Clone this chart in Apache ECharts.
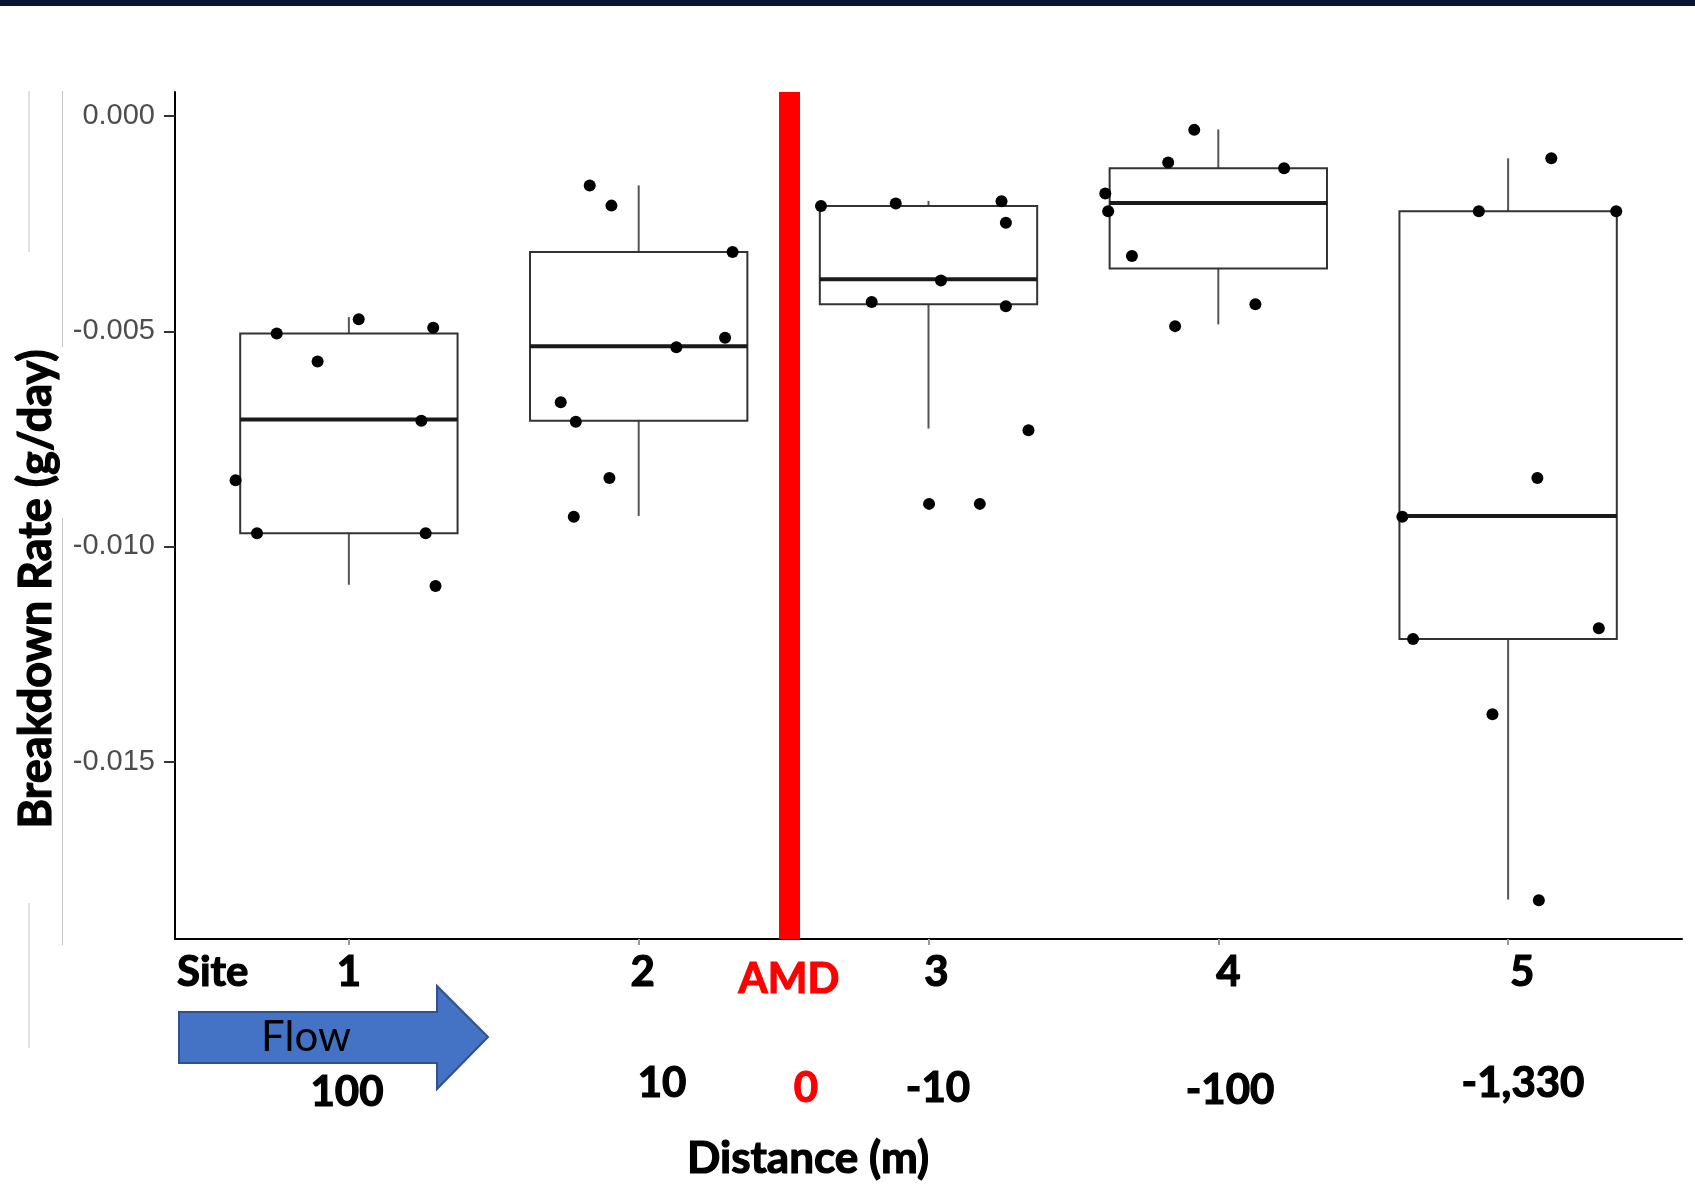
<!DOCTYPE html>
<html>
<head>
<meta charset="utf-8">
<title>Breakdown Rate</title>
<script src="https://cdn.jsdelivr.net/npm/echarts@6/dist/echarts.min.js"></script>
<style>
  html, body { margin: 0; padding: 0; background: #fff; }
  #main { width: 1695px; height: 1192px; }
</style>
</head>
<body>
<div id="main"></div>
<script>
// 站点 / 分类
var sites = ['1', '2', '3', '4', '5'];
var sitePos = [1, 2, 3, 4, 5];
// 箱线图数据 (g/day)
var whiskerLow  = [-0.01089, -0.00929, -0.00726, -0.00484, -0.01820];
var q1          = [-0.00969, -0.00708, -0.00437, -0.00354, -0.01215];
var medians     = [-0.00705, -0.00535, -0.00379, -0.00202, -0.00929];
var q3          = [-0.00505, -0.00316, -0.00209, -0.00121, -0.00221];
var whiskerHigh = [-0.00467, -0.00161, -0.00197, -0.00031, -0.00098];
// 散点 (抖动后的x位置, y值)
var pointsX = [
	[0.609, 0.683, 0.751, 0.892, 1.034, 1.250, 1.265, 1.291, 1.299],
	[1.831, 1.906, 2.324, 1.731, 1.783, 1.899, 1.776, 2.130, 2.298],
	[2.629, 2.887, 3.252, 3.267, 2.804, 3.043, 3.267, 3.345, 3.002, 3.177],
	[3.917, 3.827, 4.227, 3.610, 3.620, 3.702, 4.128, 3.851],
	[5.149, 4.899, 5.373, 5.101, 4.635, 4.672, 5.313, 4.946, 5.106]
];
var pointsY = [
	[-0.00846, -0.00969, -0.00505, -0.00570, -0.00472, -0.00708, -0.00969, -0.00492, -0.01092],
	[-0.00161, -0.00208, -0.00316, -0.00665, -0.00710, -0.00841, -0.00931, -0.00537, -0.00515],
	[-0.00209, -0.00203, -0.00198, -0.00248, -0.00432, -0.00382, -0.00442, -0.00730, -0.00901, -0.00901],
	[-0.00032, -0.00108, -0.00121, -0.00180, -0.00221, -0.00325, -0.00437, -0.00488],
	[-0.00098, -0.00221, -0.00221, -0.00841, -0.00931, -0.01215, -0.01190, -0.01390, -0.01822]
];
var yTicks = [-0.015, -0.010, -0.005, 0];
var amdPos = 2.524;
var distanceLabels = ['100', '10', '0', '-10', '-100', '-1,330'];

var boxWidth = 0.75;
var bold = 'Lato, "Open Sans", sans-serif';

var boxData = sitePos.map(function (x, i) {
	return [x, whiskerLow[i], q1[i], medians[i], q3[i], whiskerHigh[i]];
});
var dots = [];
for (var i = 0; i < pointsX.length; i++) {
	for (var j = 0; j < pointsX[i].length; j++) {
		dots.push([pointsX[i][j], pointsY[i][j]]);
	}
}

function renderBox(params, api) {
	var x = api.value(0);
	var lo = api.coord([x, api.value(1)]);
	var b1 = api.coord([x, api.value(2)]);
	var md = api.coord([x, api.value(3)]);
	var b3 = api.coord([x, api.value(4)]);
	var hi = api.coord([x, api.value(5)]);
	var half = api.size([boxWidth, 0])[0] / 2;
	return {
		type: 'group',
		children: [
			{ type: 'line', shape: { x1: lo[0], y1: lo[1], x2: b1[0], y2: b1[1] }, style: { stroke: '#555', lineWidth: 2 } },
			{ type: 'line', shape: { x1: b3[0], y1: b3[1], x2: hi[0], y2: hi[1] }, style: { stroke: '#555', lineWidth: 2 } },
			{ type: 'rect', shape: { x: b1[0] - half, y: b3[1], width: half * 2, height: b1[1] - b3[1] }, style: { fill: '#fff', stroke: '#333', lineWidth: 2 } },
			{ type: 'line', shape: { x1: md[0] - half, y1: md[1], x2: md[0] + half, y2: md[1] }, style: { stroke: '#1a1a1a', lineWidth: 4 } }
		]
	};
}

// 距离标签的位置 (像素)
var distX = [347, 662, 806, 938, 1230, 1523];
var distY = [1092, 1083, 1088, 1088, 1090, 1083];
// 站点标签相对刻度的右移 (像素)
var siteShift = [0, 4, 8, 10, 14];

function boldText(x, y, text, size, color, align) {
	return {
		type: 'text', x: x, y: y,
		style: { text: text, fontSize: size, fontWeight: 'bold', fontFamily: bold, fill: color, stroke: color, lineWidth: 1.2, align: align || 'center', verticalAlign: 'middle' }
	};
}

var yTitle = boldText(36, 589, 'Breakdown Rate (g/day)', 45, '#000');
yTitle.rotation = Math.PI / 2;

var graphics = [
	{ type: 'rect', shape: { x: 0, y: 0, width: 1695, height: 6 }, style: { fill: '#0A1430' } },
	{ type: 'line', shape: { x1: 29, y1: 91, x2: 29, y2: 252 }, style: { stroke: '#c4c4c4', lineWidth: 1 } },
	{ type: 'line', shape: { x1: 29, y1: 903, x2: 29, y2: 1048 }, style: { stroke: '#c4c4c4', lineWidth: 1 } },
	{ type: 'line', shape: { x1: 62.5, y1: 91, x2: 62.5, y2: 347 }, style: { stroke: '#c4c4c4', lineWidth: 1 } },
	{ type: 'line', shape: { x1: 62.5, y1: 518, x2: 62.5, y2: 945 }, style: { stroke: '#c4c4c4', lineWidth: 1 } },
	yTitle,
	boldText(177, 972, 'Site', 42, '#000', 'left'),
	boldText(789, 979, 'AMD', 42, '#FF0000'),
	{
		type: 'polygon',
		shape: { points: [[179, 1012], [437, 1012], [437, 986], [488, 1037], [437, 1089], [437, 1063], [179, 1063]] },
		style: { fill: '#4472C4', stroke: '#2F528F', lineWidth: 2 }
	},
	{ type: 'text', x: 306, y: 1037, style: { text: 'Flow', fontSize: 42, fontFamily: bold, fill: '#000', align: 'center', verticalAlign: 'middle' } },
	boldText(808, 1159, 'Distance (m)', 44, '#000')
];
for (var k = 0; k < distanceLabels.length; k++) {
	graphics.push(boldText(distX[k], distY[k], distanceLabels[k], 42, distanceLabels[k] === '0' ? '#FF0000' : '#000'));
}

var siteRich = {};
for (var s = 0; s < sites.length; s++) {
	siteRich['s' + s] = {
		fontSize: 42, fontWeight: 'bold', fontFamily: bold, color: '#000',
		textBorderColor: '#000', textBorderWidth: 1.2,
		padding: [0, 0, 0, siteShift[s] * 2]
	};
}

var myChart = echarts.init(document.getElementById('main'));
myChart.setOption({
	animation: false,
	backgroundColor: '#fff',
	grid: { left: 175, right: 13, top: 92, bottom: 253, outerBoundsMode: 'none' },
	xAxis: {
		type: 'value',
		min: 0.4,
		max: 5.6,
		splitLine: { show: false },
		axisLine: { show: true, onZero: false, lineStyle: { color: '#000', width: 2 } },
		axisTick: { show: true, customValues: sitePos, length: 6, lineStyle: { color: '#999', width: 2 } },
		axisLabel: {
			show: true,
			customValues: sitePos,
			formatter: function (v) {
				var n = Math.round(v) - 1;
				return '{s' + n + '|' + sites[n] + '}';
			},
			rich: siteRich,
			margin: 12
		}
	},
	yAxis: {
		type: 'value',
		min: -0.01912,
		max: 0.00056,
		splitLine: { show: false },
		axisLine: { show: true, onZero: false, lineStyle: { color: '#000', width: 2 } },
		axisTick: { show: true, customValues: yTicks, length: 11, lineStyle: { color: '#333', width: 2 } },
		axisLabel: {
			show: true,
			customValues: yTicks,
			formatter: function (v) { return v.toFixed(3); },
			margin: 20,
			fontSize: 29,
			fontFamily: '"Liberation Sans", Arial, sans-serif',
			color: '#4D4D4D'
		}
	},
	series: [{
		type: 'custom',
		name: 'box',
		renderItem: renderBox,
		encode: { x: 0, y: [1, 2, 3, 4, 5] },
		data: boxData,
		z: 2,
		silent: true
	}, {
		type: 'scatter',
		name: 'points',
		data: dots,
		symbolSize: 12,
		itemStyle: { color: '#000', opacity: 1 },
		z: 4,
		markLine: {
			silent: true,
			symbol: 'none',
			label: { show: false },
			lineStyle: { color: '#FF0000', width: 21, type: 'solid', opacity: 1 },
			data: [{ xAxis: amdPos }]
		}
	}],
	graphic: { elements: graphics }
});
</script>
</body>
</html>
